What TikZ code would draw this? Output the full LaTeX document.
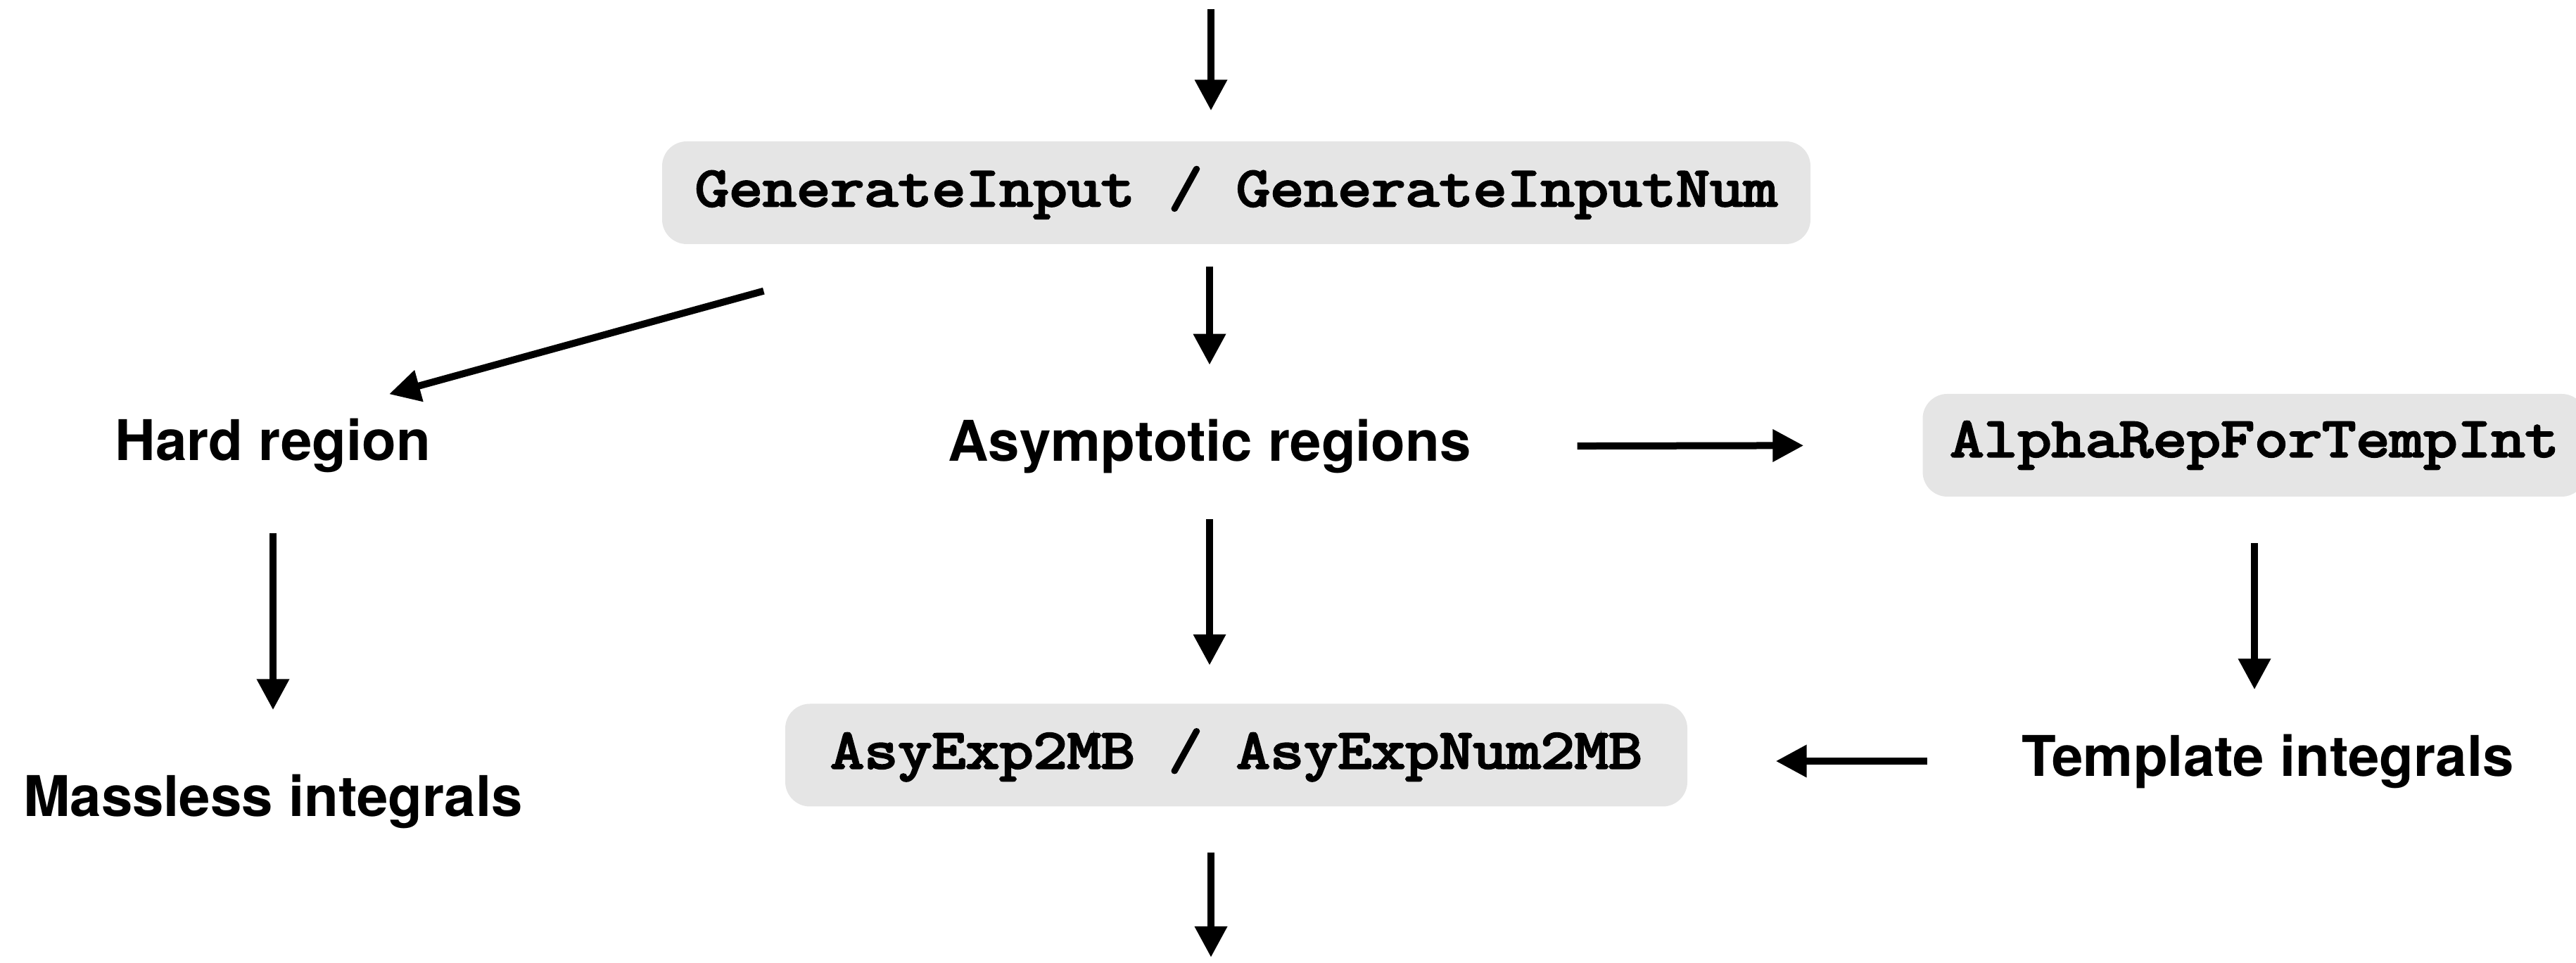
\documentclass[tikz,border=0pt]{standalone}
\usepackage{fontspec}
\setmainfont{TeX Gyre Heros}
\setmonofont{Latin Modern Mono}[FakeStretch=1.17, FakeBold=4]
\usepackage{tikz}
\usetikzlibrary{positioning, arrows.meta, calc}

\begin{document}
\begin{tikzpicture}[
    every node/.style={font=\fontsize{22.7}{27}\selectfont\bfseries},
    block/.style={fill=black!10, rounded corners=3.5mm, minimum height=1.46cm, inner sep=0pt, font=\fontsize{22.7}{27}\selectfont\ttfamily},
    stage/.style={inner sep=0pt, minimum height=1cm},
    arrow/.style={-{Triangle[width=4.4mm, length=4.4mm]}, line width=1mm},
  ]
  \useasboundingbox (0,0) rectangle (36.61,13.69);

  % --- Input / Output ---
  \coordinate (in) at (17.21,13.56);
  \coordinate (out) at (17.21,0.08);

  % --- Generation ---
  \node[block, minimum width=16.32cm] (gen) at (17.57,10.95) {GenerateInput / GenerateInputNum};

  % --- Regions ---
  \node[stage, below=2.36cm of gen, xshift=-0.38cm] (asym) {Asymptotic regions};
  \node[stage] (hard) at (3.88,7.36) {Hard region};
  \node[block, minimum width=9.43cm] (alpha) at (32.04,7.36) {AlphaRepForTempInt};

  % --- Integrals ---
  \node[stage] (massless) at (3.88,2.30) {Massless integrals};
  \node[stage] (tmpl) at (32.23,2.87) {Template integrals};
  \node[block, minimum width=12.82cm] (asy) at (17.57,2.955) {AsyExp2MB / AsyExpNum2MB};

  % --- Arrows ---
  \draw[arrow, shorten >=4.3mm] (in) -- (in |- gen.north);
  \draw[arrow, shorten <=3.1mm, shorten >=6.5mm] (asym |- gen.south) -- (asym.north);
  \draw[arrow] ($(gen.south west)+(1.45,-0.66)$) -- ($(hard.north)+(1.65,0.22)$);

  \draw[arrow, shorten <=15mm, shorten >=16.85mm] (asym.east) -- (alpha.west);
  \draw[arrow, shorten <=7.4mm, shorten >=7.9mm] (hard.south) -- (massless.north);
  \draw[arrow, shorten <=5.3mm, shorten >=5.4mm] (asym.south) -- (asym.south |- asy.north);
  \draw[arrow, shorten <=6.55mm, shorten >=5.1mm] (alpha.south) -- (alpha.south |- tmpl.north);

  \draw[arrow, shorten <=13.4mm, shorten >=12.5mm] (tmpl.west) -- (tmpl.west -| asy.east);
  \draw[arrow, shorten <=6.5mm] (out |- asy.south) -- (out);

\end{tikzpicture}
\end{document}
